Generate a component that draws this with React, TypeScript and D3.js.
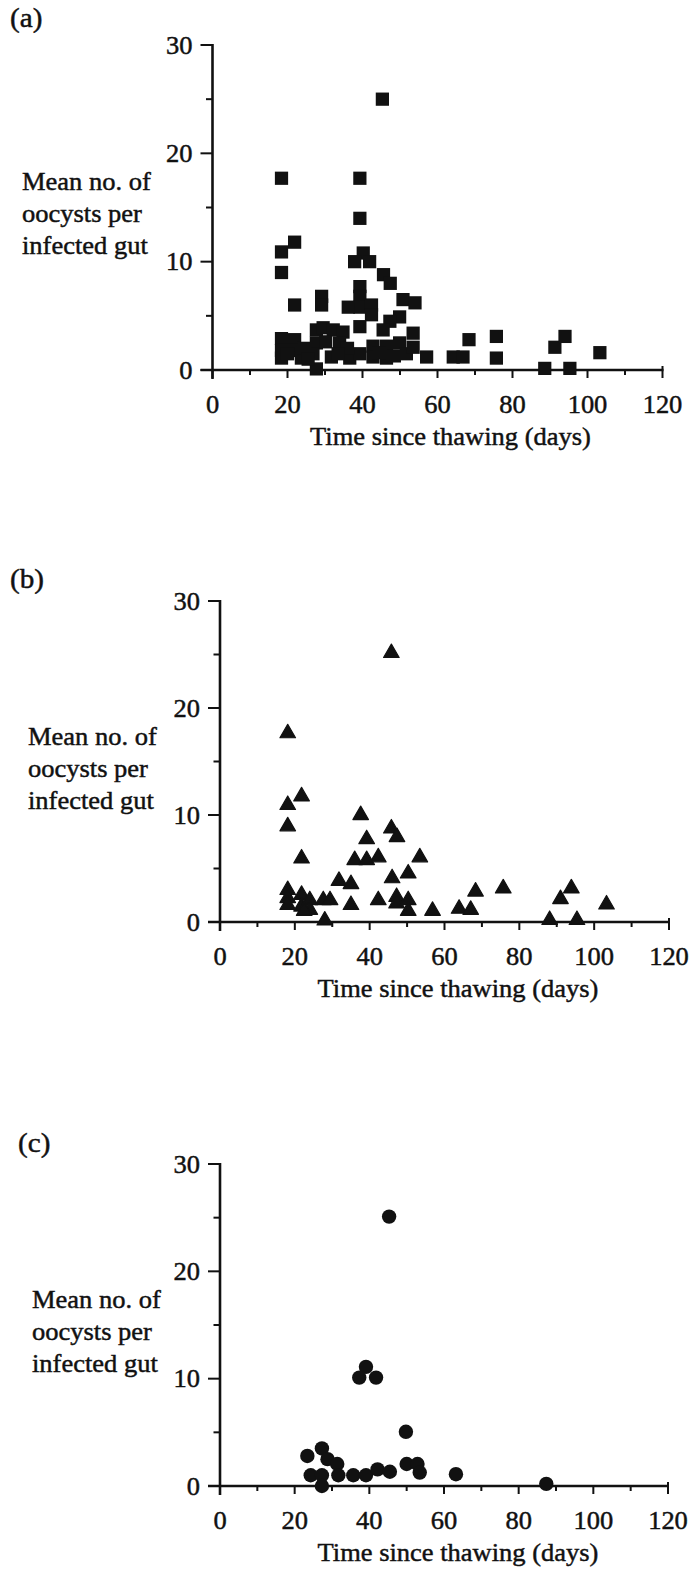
import React from "react";
import * as d3 from "d3";

// ---- data (days since thawing, mean oocysts per infected gut) ----
const panelA: [number, number][] = [
  [18.4, 17.7], [39.3, 17.7], [39.3, 14.0], [45.3, 25.0], [21.9, 11.8], [18.4, 10.9],
  [18.4, 9.0], [40.2, 10.8], [37.9, 10.0], [41.9, 10.0], [45.6, 8.8], [47.4, 8.0],
  [21.9, 6.0], [29.1, 6.8], [29.1, 6.0], [39.3, 7.7], [39.3, 6.8], [39.3, 5.8],
  [36.2, 5.8], [42.4, 6.0], [42.4, 5.1], [39.3, 4.0], [50.8, 6.5], [54.0, 6.2],
  [49.9, 4.9], [47.3, 4.5], [53.5, 3.4], [45.5, 3.7], [18.4, 2.9], [18.4, 1.8],
  [18.4, 1.1], [21.9, 2.8], [21.9, 1.8], [23.7, 1.1], [27.7, 3.7], [29.5, 3.9],
  [32.2, 3.7], [34.8, 3.5], [27.7, 2.5], [30.2, 2.6], [33.9, 2.5], [27.7, 0.1],
  [26.8, 1.5], [31.7, 1.2], [36.6, 1.1], [39.3, 1.5], [42.8, 2.2], [42.8, 1.2],
  [46.4, 2.2], [46.4, 1.1], [49.9, 2.5], [51.7, 1.5], [53.5, 2.1], [57.1, 1.2],
  [64.2, 1.2], [66.8, 1.2], [68.4, 2.8], [75.7, 3.1], [75.7, 1.1], [88.6, 0.15],
  [95.3, 0.15], [91.3, 2.1], [94.0, 3.1], [103.3, 1.6], [24.5, 2.0], [36.0, 2.0],
  [25.5, 1.0], [33.5, 1.5], [44.5, 1.6], [48.5, 1.3], [20.0, 1.5],
];

const panelB: [number, number][] = [
  [18.1, 17.5], [45.8, 25.0], [18.1, 10.8], [21.8, 11.6], [18.1, 8.8], [21.8, 5.8],
  [37.6, 9.85], [39.2, 7.6], [45.8, 8.6], [47.3, 7.8], [36.0, 5.65], [39.2, 5.65],
  [42.3, 5.9], [53.4, 5.9], [50.3, 4.4], [46.0, 3.95], [31.8, 3.7], [35.0, 3.4],
  [35.0, 1.45], [42.3, 1.9], [47.2, 2.2], [47.2, 1.6], [50.3, 1.9], [50.3, 0.9],
  [56.8, 0.9], [63.9, 1.1], [67.0, 1.0], [68.3, 2.7], [75.7, 3.0], [88.1, 0.05],
  [91.0, 2.0], [93.9, 3.0], [95.4, 0.05], [103.3, 1.5], [18.1, 2.85], [18.1, 2.1],
  [18.1, 1.45], [21.8, 2.4], [21.8, 1.3], [24.0, 1.9], [24.0, 1.0], [22.5, 0.9],
  [27.6, 1.9], [29.4, 1.9], [28.0, 0.0],
];

const panelC: [number, number][] = [
  [45.3, 25.1], [39.1, 11.1], [37.3, 10.1], [41.8, 10.1], [49.8, 5.05], [23.4, 2.8],
  [27.3, 3.5], [28.8, 2.5], [31.4, 2.05], [24.3, 1.0], [27.3, 1.0], [27.3, 0.0],
  [31.7, 1.0], [35.7, 1.0], [39.1, 1.0], [42.2, 1.55], [45.5, 1.33], [50.0, 2.05],
  [52.9, 2.05], [53.5, 1.25], [63.2, 1.1], [87.4, 0.2],
];

const xTickValues = [0, 20, 40, 60, 80, 100, 120];
const xMinorTicks = [10, 30, 50, 70, 90, 110];
const yTickValues = [0, 10, 20, 30];
const yMinorTicks = [5, 15, 25];
const yLabelLines = ["Mean no. of", "oocysts per", "infected gut"];
const xTitle = "Time since thawing (days)";
const panelLabels = ["(a)", "(b)", "(c)"];

const FONT = "'Liberation Serif', 'Times New Roman', Times, serif";
const INK = "#111";

function T({ x, y, anchor = "start", children, size = 25, sx = 1.06 }: any) {
  return (
    <text
      transform={`translate(${x},${y}) scale(${sx},1)`}
      textAnchor={anchor}
      fontSize={size}
      fontFamily={FONT}
      fill={INK}
      stroke={INK}
      strokeWidth={0.45}
    >
      {children}
    </text>
  );
}

type Layout = {
  x0: number; x120: number; y0: number; y30: number;
  lx: number; ly: number; ylabX: number;
};

const layouts: Layout[] = [
  { x0: 212.5, x120: 662.5, y0: 370, y30: 45, lx: 10, ly: 27, ylabX: 22 },
  { x0: 220, x120: 669, y0: 922, y30: 601, lx: 10, ly: 588, ylabX: 28 },
  { x0: 220, x120: 668, y0: 1486, y30: 1164, lx: 18, ly: 1152, ylabX: 32 },
];

function Marker({ shape, cx, cy }: { shape: string; cx: number; cy: number }) {
  if (shape === "circle") return <circle cx={cx} cy={cy} r={7.2} fill={INK} />;
  if (shape === "square") {
    const p = d3.symbol(d3.symbolSquare, 175)() as string;
    return <path d={p} transform={`translate(${cx},${cy})`} fill={INK} />;
  }
  const p = d3.symbol(d3.symbolTriangle, 105)() as string;
  return <path d={p} transform={`translate(${cx},${cy - 1.5})`} fill={INK} stroke={INK} strokeWidth={1.2} strokeLinejoin="round" />;
}

function Panel({ data, shape, L, label }: { data: [number, number][]; shape: string; L: Layout; label: string }) {
  const x = d3.scaleLinear().domain([0, 120]).range([L.x0, L.x120]);
  const y = d3.scaleLinear().domain([0, 30]).range([L.y0, L.y30]);
  const y20 = y(20);
  return (
    <g>
      <T x={L.lx} y={L.ly} size={27} sx={1.08}>{label}</T>
      {yLabelLines.map((t, i) => (
        <T key={t} x={L.ylabX} y={y20 + 37 + i * 32}>{t}</T>
      ))}
      {/* axes */}
      <line x1={x(0)} x2={x(0)} y1={y(30) - 1} y2={y(0) + 9} stroke={INK} strokeWidth={2.6} />
      <line x1={x(0) - 12} x2={x(120) + 1} y1={y(0)} y2={y(0)} stroke={INK} strokeWidth={2.6} />
      {yTickValues.map((v) => (
        <g key={"y" + v}>
          <line x1={x(0) - 12} x2={x(0)} y1={y(v)} y2={y(v)} stroke={INK} strokeWidth={2} />
          <T x={x(0) - 20} y={y(v) + 8.5} anchor="end">{String(v)}</T>
        </g>
      ))}
      {yMinorTicks.map((v) => (
        <line key={"ym" + v} x1={x(0) - 6.5} x2={x(0)} y1={y(v)} y2={y(v)} stroke={INK} strokeWidth={2} />
      ))}
      {xTickValues.map((v) => (
        <g key={"x" + v}>
          <line x1={x(v)} x2={x(v)} y1={v === 120 ? y(0) - 4 : y(0)} y2={y(0) + 8} stroke={INK} strokeWidth={2} />
          <T x={x(v)} y={y(0) + 43} anchor="middle">{String(v)}</T>
        </g>
      ))}
      {xMinorTicks.map((v) => (
        <line key={"xm" + v} x1={x(v)} x2={x(v)} y1={y(0)} y2={y(0) + 5} stroke={INK} strokeWidth={2} />
      ))}
      <T x={x(0) + 238} y={y(0) + 75} anchor="middle">{xTitle}</T>
      {data.map(([dx, dy], i) => (
        <Marker key={i} shape={shape} cx={x(dx)} cy={y(dy)} />
      ))}
    </g>
  );
}

export default function App() {
  return (
    <svg
      width={694}
      height={1574}
      style={{ position: "absolute", left: 0, top: 0, background: "#fff" }}
    >
      <rect width={694} height={1574} fill="#fff" />
      <Panel data={panelA} shape="square" L={layouts[0]} label={panelLabels[0]} />
      <Panel data={panelB} shape="triangle" L={layouts[1]} label={panelLabels[1]} />
      <Panel data={panelC} shape="circle" L={layouts[2]} label={panelLabels[2]} />
    </svg>
  );
}
